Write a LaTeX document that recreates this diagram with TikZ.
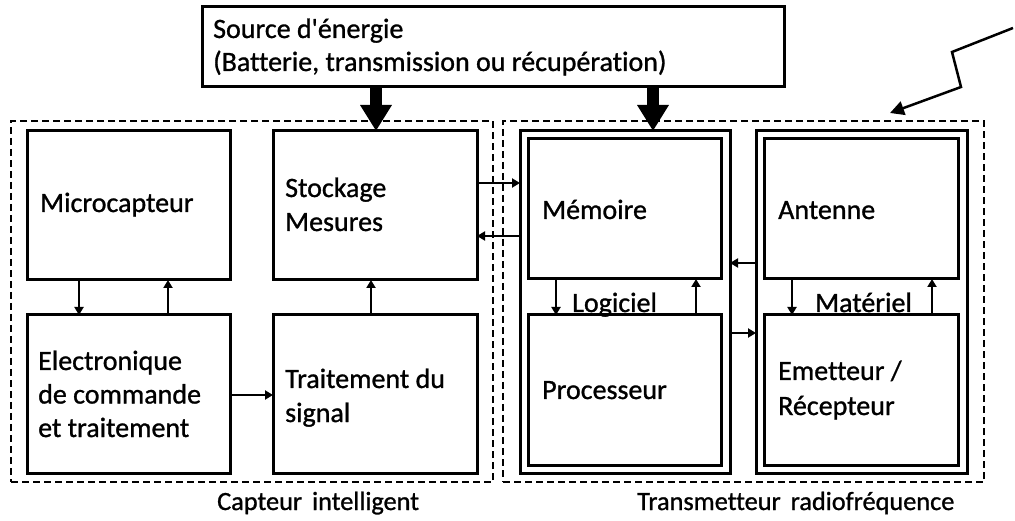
\documentclass[tikz,border=0pt]{standalone}
\usepackage{fontspec}
\setmainfont{Carlito}[Ligatures={TeXOff,CommonOff}, FakeBold=1]
\usetikzlibrary{arrows.meta}

\begin{document}
\begin{tikzpicture}[x=1pt,y=-1pt,
  blk/.style={draw, line width=3pt, rectangle, inner sep=0pt, outer sep=0pt},
  grp/.style={draw, line width=2pt, dash pattern=on 7pt off 4pt, rectangle, inner sep=0pt, outer sep=0pt},
  txt/.style={inner sep=0pt, anchor=base west, font=\fontsize{28}{33}\selectfont},
  captiontext/.style={txt, font=\fontsize{26.3}{31}\selectfont},
  link/.style={line width=2pt, -{Triangle[width=9pt,length=8pt]}},
  feed/.style={line width=12pt, -{Triangle[width=30pt,length=26pt]}},
  zap/.style={line width=2.5pt, -{Triangle[width=14pt,length=14pt]}},
]
\useasboundingbox (0,0) rectangle (1015,521);

% energy source
\node[blk, minimum width=582pt, minimum height=80pt] (src) at (493,47) {};
\node[txt] (srcA) at (213,38) {Source d'énergie};
\node[txt] (srcB) at (213,71) {(Batterie, transmission ou récupération)};

% group frames
\node[grp, minimum width=482pt, minimum height=361pt] (capt) at (252,301.5) {};
\node[grp, minimum width=481pt, minimum height=361pt] (trans) at (743.5,301.5) {};

% smart sensor blocks
\node[blk, minimum width=203pt, minimum height=149pt] (micro) at (128.5,205.5) {};
\node[blk, minimum width=204pt, minimum height=149pt] (stock) at (375,205.5) {};
\node[blk, minimum width=203pt, minimum height=158pt] (elec) at (128.5,394) {};
\node[blk, minimum width=204pt, minimum height=158pt] (trait) at (375,394) {};

\node[txt] (tMicro) at (40,212) {Microcapteur};
\node[txt] (tStockA) at (285,197) {Stockage};
\node[txt] (tStockB) at (285,231) {Mesures};
\node[txt] (tElecA) at (38,370) {Electronique};
\node[txt] (tElecB) at (38,403.5) {de commande};
\node[txt] (tElecC) at (38,437) {et traitement};
\node[txt] (tTraitA) at (285,388) {Traitement du};
\node[txt] (tTraitB) at (285,422) {signal};

% radio transmitter blocks
\node[blk, minimum width=210pt, minimum height=342pt] (logi) at (625,302) {};
\node[blk, minimum width=193pt, minimum height=140pt] (mem) at (624.5,209) {};
\node[blk, minimum width=193pt, minimum height=150pt] (proc) at (624.5,390) {};
\node[blk, minimum width=211pt, minimum height=342pt] (mat) at (861.5,302) {};
\node[blk, minimum width=194pt, minimum height=140pt] (ant) at (861,209) {};
\node[blk, minimum width=194pt, minimum height=150pt] (emet) at (861,390) {};

\node[txt] (tMem) at (542,219) {Mémoire};
\node[txt] (tProc) at (542,399) {Processeur};
\node[txt] (tAnt) at (778,219) {Antenne};
\node[txt] (tEmetA) at (778,380) {Emetteur /};
\node[txt] (tEmetB) at (778,415) {Récepteur};
\node[txt] (tLogi) at (572,312) {Logiciel};
\node[txt] (tMat) at (815,312) {Matériel};

% captions
\node[captiontext] (cCapt) at (217,510) {Capteur\hskip 10pt intelligent};
\node[captiontext] (cTrans) at (637,510) {Transmetteur\hskip 10pt radiofréquence};

% energy feeds
\draw[feed] (376,0 |- src.south) -- (376,0 |- stock.north);
\draw[feed] (653,0 |- src.south) -- (653,0 |- logi.north);

% data links
\draw[link] (79,0 |- micro.south) -- (79,0 |- elec.north);
\draw[link] (168,0 |- elec.north) -- (168,0 |- micro.south);
\draw[link] (371,0 |- trait.north) -- (371,0 |- stock.south);
\draw[link] (elec.east |- 0,395) -- (trait.west |- 0,395);
\draw[link] (stock.east |- 0,183) -- (logi.west |- 0,183);
\draw[link] (logi.west |- 0,236) -- (stock.east |- 0,236);
\draw[link] (556,0 |- mem.south) -- (556,0 |- proc.north);
\draw[link] (696,0 |- proc.north) -- (696,0 |- mem.south);
\draw[link] (792,0 |- ant.south) -- (792,0 |- emet.north);
\draw[link] (932,0 |- emet.north) -- (932,0 |- ant.south);
\draw[link] (mat.west |- 0,263) -- (logi.east |- 0,263);
\draw[link] (logi.east |- 0,333) -- (mat.west |- 0,333);

% radio link
\coordinate (zA) at (1013,28);
\coordinate (zB) at (952,52);
\coordinate (zC) at (961,87);
\coordinate (zD) at (890,113);
\draw[zap] (zA) -- (zB) -- (zC) -- (zD);
\end{tikzpicture}
\end{document}
